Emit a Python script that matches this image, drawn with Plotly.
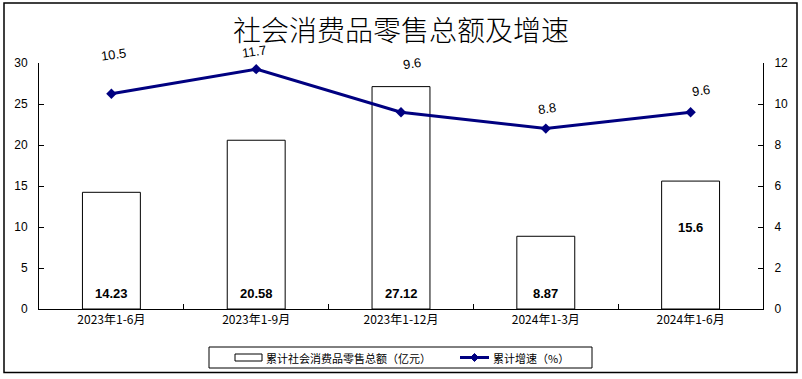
import plotly.graph_objects as go

categories = ["2023年1-6月", "2023年1-9月", "2023年1-12月", "2024年1-3月", "2024年1-6月"]
sales_total = [14.23, 20.58, 27.12, 8.87, 15.6]
sales_label = ["14.23", "20.58", "27.12", "8.87", "15.6"]
growth_rate = [10.5, 11.7, 9.6, 8.8, 9.6]
growth_label = ["10.5", "11.7", "9.6", "8.8", "9.6"]
left_ticks = [0, 5, 10, 15, 20, 25, 30]
right_ticks = [0, 2, 4, 6, 8, 10, 12]

title_text = "社会消费品零售总额及增速"
legend_bar = "累计社会消费品零售总额（亿元）"
legend_line = "累计增速（%）"

# label placement (styles, pixels / axis units)
bar_label_y = [1.95, 1.95, 1.95, 1.95, 10.0]
line_label_yshift = [39, 18, 49, 20, 22]
line_label_xshift = [2, -2, 11, 1, 10]

W, H = 802, 379
L, R, T, B = 39, 39, 63, 70
PW, PH = W - L - R, H - T - B

def px(xp):
    return (xp - L) / PW

def py(yp):
    return (H - B - yp) / PH

NAVY = "#000080"
FONT = "Liberation Sans, Arial, sans-serif"
CJK = "Noto Sans CJK SC, sans-serif"

fig = go.Figure()
fig.add_trace(go.Bar(
    x=categories, y=sales_total, width=0.4,
    marker=dict(color="white", line=dict(color="black", width=1)),
    showlegend=False, yaxis="y", hoverinfo="skip",
))
fig.add_trace(go.Scatter(
    x=categories, y=growth_rate, mode="lines+markers", yaxis="y2",
    line=dict(color=NAVY, width=3),
    marker=dict(symbol="diamond", size=8, color=NAVY),
    showlegend=False, hoverinfo="skip",
))

ann = []
for c, v, t in zip(categories, bar_label_y, sales_label):
    ann.append(dict(x=c, y=v, xref="x", yref="y", text="<b>%s</b>" % t,
                    showarrow=False, font=dict(family=FONT, size=13, color="black")))
for c, v, t, ys, xs in zip(categories, growth_rate, growth_label, line_label_yshift, line_label_xshift):
    ann.append(dict(x=c, y=v, xref="x", yref="y2", text=t, yshift=ys, xshift=xs,
                    textangle=-8, showarrow=False,
                    font=dict(family=FONT, size=13, color="black")))
# title
ann.append(dict(x=px(401), y=py(29), xref="paper", yref="paper", text=title_text,
                showarrow=False, xanchor="center", yanchor="middle",
                font=dict(family=CJK, size=28, color="black", weight=300)))
# legend texts
ann.append(dict(x=px(264), y=py(357.5), xref="paper", yref="paper", text=legend_bar,
                showarrow=False, xanchor="left", yanchor="middle",
                font=dict(family=CJK, size=11, color="black")))
ann.append(dict(x=px(491), y=py(357.5), xref="paper", yref="paper", text=legend_line,
                showarrow=False, xanchor="left", yanchor="middle",
                font=dict(family=CJK, size=11, color="black")))

shapes = [
    # outer border
    dict(type="rect", xref="paper", yref="paper", x0=px(4), x1=px(797), y0=py(3), y1=py(372.5),
         line=dict(color="black", width=1.5), layer="below"),
    # legend box
    dict(type="rect", xref="paper", yref="paper", x0=px(209), x1=px(592), y0=py(347), y1=py(368),
         line=dict(color="black", width=1)),
    # legend bar icon
    dict(type="rect", xref="paper", yref="paper", x0=px(235), x1=px(262), y0=py(354), y1=py(361),
         line=dict(color="black", width=1), fillcolor="white"),
    # legend line icon
    dict(type="line", xref="paper", yref="paper", x0=px(460), x1=px(489), y0=py(357.5), y1=py(357.5),
         line=dict(color=NAVY, width=3)),
    dict(type="path", xref="paper", yref="paper",
         path="M %f %f L %f %f L %f %f L %f %f Z" % (px(474.5), py(353.5), px(478.5), py(357.5),
                                                    px(474.5), py(361.5), px(470.5), py(357.5)),
         line=dict(color=NAVY, width=1), fillcolor=NAVY),
]

fig.update_layout(
    width=W, height=H,
    margin=dict(l=L, r=R, t=T, b=B, pad=0),
    paper_bgcolor="white", plot_bgcolor="white",
    showlegend=False,
    annotations=ann, shapes=shapes,
    xaxis=dict(
        type="category", categoryorder="array", categoryarray=categories,
        showline=True, linecolor="black", linewidth=1, mirror=False,
        ticks="inside", tickson="boundaries", ticklen=5, tickcolor="black",
        tickfont=dict(family=CJK, size=12, color="black"),
        showgrid=False, zeroline=False, fixedrange=True,
    ),
    yaxis=dict(
        range=[0, 30], tickvals=left_ticks, showline=True, linecolor="black", linewidth=1,
        ticks="inside", ticklen=5, tickcolor="black", ticklabelstandoff=8,
        tickfont=dict(family=FONT, size=12, color="black"),
        showgrid=False, zeroline=False,
    ),
    yaxis2=dict(
        range=[0, 12], tickvals=right_ticks, overlaying="y", side="right",
        showline=True, linecolor="black", linewidth=1,
        ticks="inside", ticklen=5, tickcolor="black", ticklabelstandoff=8,
        tickfont=dict(family=FONT, size=12, color="black"),
        showgrid=False, zeroline=False,
    ),
)

fig.write_html(
    "out.html",
    config={"displayModeBar": False},
    post_script="document.body.style.margin='0';document.body.style.overflow='hidden';",
)
